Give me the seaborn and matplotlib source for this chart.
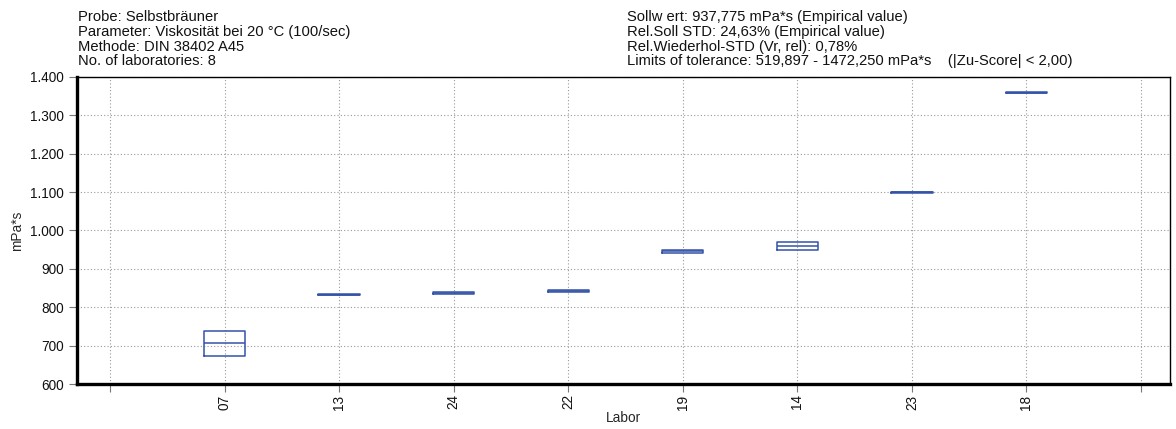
import matplotlib
matplotlib.use("Agg")
import matplotlib.pyplot as plt
import matplotlib.ticker as mticker
import seaborn as sns
import pandas as pd

# Laboratories in plotting order, with box bounds (min / max) and median per lab
labs = ["07", "13", "24", "22", "19", "14", "23", "18"]
box_low = [673, 832, 834, 841, 942, 950, 1099, 1358]
box_median = [706, 833, 837, 843, 946, 960, 1100, 1359]
box_high = [739, 834, 840, 845, 950, 969, 1101, 1360]

y_ticks = [600, 700, 800, 900, 1000, 1100, 1200, 1300, 1400]

header_left = [
    "Probe: Selbstbräuner",
    "Parameter: Viskosität bei 20 °C (100/sec)",
    "Methode: DIN 38402 A45",
    "No. of laboratories: 8",
]
header_right = [
    "Sollw ert: 937,775 mPa*s (Empirical value)",
    "Rel.Soll STD: 24,63% (Empirical value)",
    "Rel.Wiederhol-STD (Vr, rel): 0,78%",
    "Limits of tolerance: 519,897 - 1472,250 mPa*s    (|Zu-Score| < 2,00)",
]

# Long-form table: five points per lab so quartiles land on low/median/high
rows = []
for lab, lo, med, hi in zip(labs, box_low, box_median, box_high):
    for v in (lo, lo, med, hi, hi):
        rows.append({"Labor": lab, "value": v})
df = pd.DataFrame(rows)

sns.set_theme(style="white")
plt.rcParams["font.family"] = ["Liberation Sans", "DejaVu Sans"]

fig = plt.figure(figsize=(11.76, 4.29), dpi=100)
ax = fig.add_axes([77 / 1176, 45 / 429, (1170 - 77) / 1176, (384 - 77) / 429])

blue = "#3452a8"
order = [""] + labs + [" "]
sns.boxplot(
    data=df, x="Labor", y="value", order=order, ax=ax,
    width=0.36, whis=(0, 100), showcaps=False, showfliers=False,
    fill=False, color=blue, linewidth=1.1,
    medianprops=dict(color=blue, linewidth=1.1),
)

ax.set_xlim(-0.288, 9.253)
ax.set_ylim(600, 1400)
ax.set_yticks(y_ticks)
ax.yaxis.set_major_formatter(
    mticker.FuncFormatter(lambda v, p: f"{int(v):,}".replace(",", "."))
)
ax.set_xticks(range(len(order)))
ax.set_xticklabels(order, rotation=90)

ax.grid(True, which="major", color="#999999", linestyle=(0, (1, 2)), linewidth=0.8)
ax.set_axisbelow(True)

ax.tick_params(axis="both", direction="out", length=6, width=0.8,
               color="#777777", labelsize=9.8, labelcolor="#111111")
ax.tick_params(axis="y", pad=3.5)
ax.tick_params(axis="x", pad=1.5)
ax.tick_params(left=True, bottom=True)

for side in ("left", "bottom"):
    ax.spines[side].set_linewidth(2.4)
    ax.spines[side].set_color("black")
for side in ("top", "right"):
    ax.spines[side].set_linewidth(1.0)
    ax.spines[side].set_color("black")

ax.set_xlabel("Labor", fontsize=9.8, labelpad=1)
ax.set_ylabel("mPa*s", fontsize=9.8, labelpad=4)

fig.text(78 / 1176, 1 - 10 / 429, "\n".join(header_left), fontsize=10.6,
         va="top", ha="left", linespacing=1.07, color="#111111")
fig.text(627 / 1176, 1 - 10 / 429, "\n".join(header_right), fontsize=10.6,
         va="top", ha="left", linespacing=1.07, color="#111111")

fig.savefig("out.png", dpi=100)
